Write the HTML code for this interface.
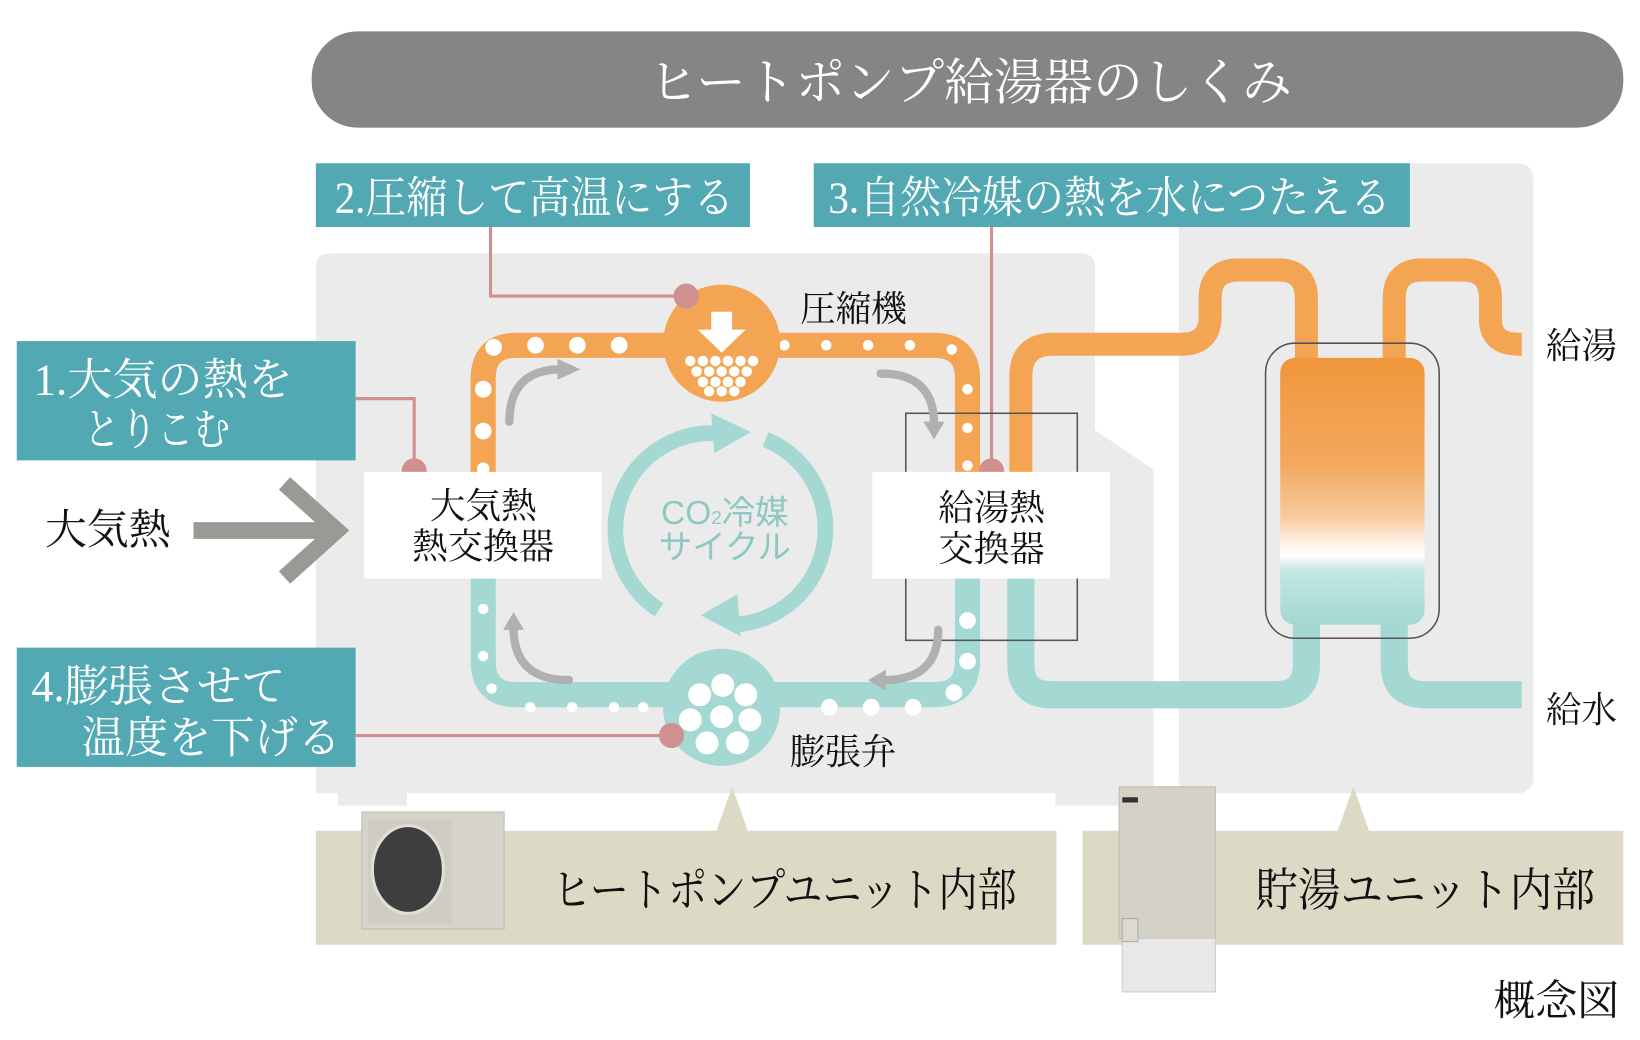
<!DOCTYPE html>
<html><head><meta charset="utf-8"><style>
html,body{margin:0;padding:0;background:#fff;}
svg{display:block;}
text{font-family:"Liberation Serif","Noto Serif CJK JP","Noto Serif CJK SC",serif;}
.s{font-family:"Liberation Sans","Noto Sans CJK JP",sans-serif;}
</style></head><body>
<svg width="1640" height="1040" viewBox="0 0 1568 994" preserveAspectRatio="none" xmlns="http://www.w3.org/2000/svg">
<defs>
<linearGradient id="tg" x1="0" y1="0" x2="0" y2="1">
<stop offset="0" stop-color="#f0963a"/><stop offset="0.4" stop-color="#f3a85e"/><stop offset="0.6" stop-color="#f8cba0"/><stop offset="0.7" stop-color="#fdf3ea"/><stop offset="0.74" stop-color="#ffffff"/><stop offset="0.8" stop-color="#c3e6e3"/><stop offset="1" stop-color="#a3d8d3"/>
</linearGradient>
</defs>
<rect x="298" y="30" width="1254" height="92" rx="44" fill="#858585"/>
<text x="620" y="95" font-size="48" fill="#fff" textLength="615" lengthAdjust="spacingAndGlyphs">ヒートポンプ給湯器のしくみ</text>
<rect x="1127" y="156" width="339" height="602" rx="14" fill="#ebebeb"/>
<path d="M316,242 L1033,242 Q1047,242 1047,256 L1047,411 L1103,449 L1103,770 L1009,770 L1009,758 L389,758 L389,770 L323,770 L323,758 L302,758 L302,256 Q302,242 316,242 Z" fill="#ebebeb"/>
<rect x="302" y="156" width="415" height="61" fill="#52a9b4"/>
<text x="320" y="203" font-size="42" fill="#fff" textLength="382" lengthAdjust="spacingAndGlyphs">2.圧縮して高温にする</text>
<rect x="778" y="156" width="570" height="61" fill="#52a9b4"/>
<text x="792" y="203" font-size="42" fill="#fff" textLength="538" lengthAdjust="spacingAndGlyphs">3.自然冷媒の熱を水につたえる</text>
<rect x="16" y="326" width="324" height="114" fill="#52a9b4"/>
<text x="32" y="377" font-size="42" fill="#fff" textLength="248" lengthAdjust="spacingAndGlyphs">1.大気の熱を</text>
<text x="80" y="425" font-size="42" fill="#fff" textLength="140" lengthAdjust="spacingAndGlyphs">とりこむ</text>
<rect x="16" y="619" width="324" height="114" fill="#52a9b4"/>
<text x="30" y="670" font-size="42" fill="#fff" textLength="243" lengthAdjust="spacingAndGlyphs">4.膨張させて</text>
<text x="78" y="719" font-size="42" fill="#fff" textLength="248" lengthAdjust="spacingAndGlyphs">温度を下げる</text>
<g stroke="#d09090" stroke-width="3" fill="none">
<path d="M340,381 H396 V450"/><path d="M469,217 V283 H656"/><path d="M948,217 V450"/><path d="M340,703 H642"/>
</g>
<g fill="none" stroke="#f3a553" stroke-width="22">
<path d="M976,455 L976,360 Q976,329 1007,329 L1130,329 Q1157,329 1157,302 L1157,285 Q1157,258 1184,258 L1222,258 Q1249,258 1249,285 L1249,350"/>
<path d="M1333,350 L1333,285 Q1333,258 1360,258 L1398,258 Q1425,258 1425,285 L1425,305 Q1425,329 1452,329 L1455,329"/>
</g>
<g fill="none" stroke="#a3d8d3" stroke-width="26">
<path d="M976,550 L976,635 Q976,664 1005,664 L1220,664 Q1249,664 1249,635 L1249,590"/>
<path d="M1333,590 L1333,635 Q1333,664 1362,664 L1455,664"/>
</g>
<rect x="1210" y="328" width="166" height="282" rx="28" fill="none" stroke="#555" stroke-width="1.5"/>
<rect x="1224" y="342" width="138" height="255" rx="14" fill="url(#tg)"/>
<path d="M462,455 L462,362 Q462,330 494,330 L893,330 Q925,330 925,362 L925,455" fill="none" stroke="#f3a553" stroke-width="24"/>
<path d="M462,550 L462,632 Q462,664 494,664 L893,664 Q925,664 925,632 L925,550" fill="none" stroke="#a3d8d3" stroke-width="24"/>
<g fill="#fff">
<circle cx="472" cy="332" r="8"/><circle cx="512" cy="330" r="8"/><circle cx="552" cy="330" r="8"/><circle cx="592" cy="330" r="8"/>
<circle cx="462" cy="372" r="8"/><circle cx="462" cy="412" r="8"/><circle cx="462" cy="448" r="6"/>
<circle cx="750" cy="330" r="5"/><circle cx="790" cy="330" r="5"/><circle cx="830" cy="330" r="5"/><circle cx="870" cy="330" r="5"/><circle cx="910" cy="334" r="5"/>
<circle cx="925" cy="372" r="5"/><circle cx="925" cy="409" r="5"/><circle cx="925" cy="445" r="5"/>
<circle cx="462" cy="582" r="5"/><circle cx="462" cy="627" r="5"/><circle cx="470" cy="658" r="5"/>
<circle cx="507" cy="676" r="5"/><circle cx="547" cy="676" r="5"/><circle cx="587" cy="676" r="5"/><circle cx="615" cy="676" r="5"/>
<circle cx="925" cy="593" r="8"/><circle cx="925" cy="632" r="8"/><circle cx="912" cy="662" r="8"/>
<circle cx="793" cy="676" r="8"/><circle cx="833" cy="676" r="8"/><circle cx="873" cy="676" r="8"/>
</g>
<rect x="866" y="395" width="164" height="217" fill="none" stroke="#555" stroke-width="1.5"/>
<g fill="none" stroke="#b0b0b0" stroke-width="8" stroke-linecap="round">
<path d="M487,403 Q487,353 537,353"/><path d="M842,357 Q893,357 893,405"/><path d="M544,650 Q491,650 491,600"/><path d="M897,602 Q897,650 845,650"/>
</g>
<g fill="#b0b0b0">
<path d="M533,343 L555,353 L533,363 Z"/><path d="M883,403 L893,420 L903,403 Z"/><path d="M481,602 L491,585 L501,602 Z"/><path d="M847,640 L830,650 L847,660 Z"/>
</g>
<g fill="none" stroke="#a3d8d3" stroke-width="15">
<path d="M682,414 A92,92 0 0 0 630,583"/>
<path d="M732,420 A92,92 0 0 1 703,597"/>
</g>
<g fill="#a3d8d3">
<path d="M680,395 L718,413 L683,433 Z"/><path d="M670,588 L705,568 L708,608 Z"/>
</g>
<text x="693" y="501" font-size="32" fill="#8fc8c3" text-anchor="middle" class="s">CO<tspan font-size="18">2</tspan>冷媒</text>
<text x="693" y="534" font-size="32" fill="#8fc8c3" text-anchor="middle" class="s">サイクル</text>
<circle cx="690" cy="328" r="56" fill="#f3a553"/>
<path d="M680,298 H700 V315 H713 L690,337 L667,315 H680 Z" fill="#fff"/>
<g fill="#fff">
<circle cx="660" cy="345" r="5"/><circle cx="672" cy="345" r="5"/><circle cx="684" cy="345" r="5"/><circle cx="696" cy="345" r="5"/><circle cx="708" cy="345" r="5"/><circle cx="720" cy="345" r="5"/>
<circle cx="666" cy="355" r="5"/><circle cx="678" cy="355" r="5"/><circle cx="690" cy="355" r="5"/><circle cx="702" cy="355" r="5"/><circle cx="714" cy="355" r="5"/>
<circle cx="672" cy="365" r="5"/><circle cx="684" cy="365" r="5"/><circle cx="696" cy="365" r="5"/><circle cx="708" cy="365" r="5"/>
<circle cx="678" cy="374" r="5"/><circle cx="690" cy="374" r="5"/><circle cx="702" cy="374" r="5"/>
</g>
<circle cx="690" cy="676" r="56" fill="#a3d8d3"/>
<g fill="#fff">
<circle cx="691" cy="655" r="11"/><circle cx="669" cy="664" r="11"/><circle cx="713" cy="664" r="11"/>
<circle cx="690" cy="685" r="11"/><circle cx="660" cy="688" r="11"/><circle cx="717" cy="688" r="11"/>
<circle cx="676" cy="710" r="11"/><circle cx="705" cy="710" r="11"/>
</g>
<g fill="#d09090"><circle cx="396" cy="450" r="12"/><circle cx="656" cy="283" r="12"/><circle cx="948" cy="450" r="12"/><circle cx="642" cy="703" r="12"/></g>
<rect x="348" y="451" width="227" height="102" fill="#fff"/>
<text x="462" y="495" font-size="34" fill="#111" text-anchor="middle">大気熱</text>
<text x="462" y="534" font-size="34" fill="#111" text-anchor="middle">熱交換器</text>
<rect x="834" y="451" width="227" height="102" fill="#fff"/>
<text x="948" y="497" font-size="34" fill="#111" text-anchor="middle">給湯熱</text>
<text x="948" y="536" font-size="34" fill="#111" text-anchor="middle">交換器</text>
<text x="765" y="307" font-size="34" fill="#111">圧縮機</text>
<text x="755" y="730" font-size="34" fill="#111">膨張弁</text>
<text x="43" y="520" font-size="40" fill="#111">大気熱</text>
<g stroke="#9a9a95" stroke-width="16" fill="none"><path d="M185,507 H318"/><path d="M272,462 L322,507 L272,552"/></g>
<text x="1478" y="342" font-size="34" fill="#111">給湯</text>
<text x="1478" y="690" font-size="34" fill="#111">給水</text>
<rect x="302" y="794" width="708" height="109" fill="#dcdac5"/>
<path d="M685,794 L700,752 L715,794 Z" fill="#dcdac5"/>
<rect x="1035" y="794" width="517" height="109" fill="#dcdac5"/>
<path d="M1279,794 L1294,752 L1309,794 Z" fill="#dcdac5"/>
<text x="528" y="866" font-size="44" fill="#111" textLength="444" lengthAdjust="spacingAndGlyphs">ヒートポンプユニット内部</text>
<text x="1200" y="866" font-size="44" fill="#111" textLength="325" lengthAdjust="spacingAndGlyphs">貯湯ユニット内部</text>
<text x="1428" y="970" font-size="40" fill="#111">概念図</text>
<rect x="346" y="776" width="136" height="112" fill="#d6d3ca" stroke="#bfbcb2"/>
<rect x="352" y="783" width="80" height="100" fill="#cfccc3"/>
<ellipse cx="390" cy="831" rx="34" ry="42" fill="#3e3e3e" stroke="#e0ded6" stroke-width="3"/>
<rect x="1070" y="752" width="92" height="145" fill="#d4d1c6" stroke="#bfbcb2"/>
<rect x="1073" y="897" width="89" height="51" fill="#e8e8e8" stroke="#ccc"/>
<rect x="1073" y="878" width="15" height="22" fill="#dcd9d0" stroke="#aaa"/>
<rect x="1073" y="762" width="15" height="5" fill="#333"/>
</svg>
</body></html>
